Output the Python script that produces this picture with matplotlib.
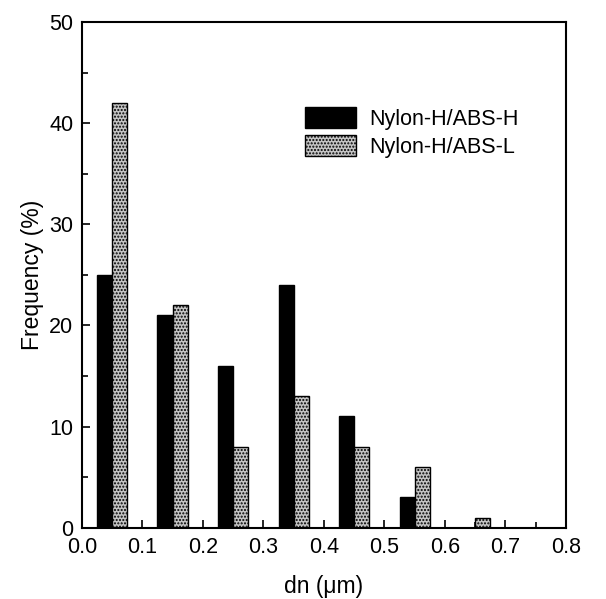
import numpy as np
import matplotlib.pyplot as plt

plt.rcParams['font.family'] = ['Liberation Sans', 'DejaVu Sans']

# bin centres (um) and frequencies (%)
dn_bins = [0.05, 0.15, 0.25, 0.35, 0.45, 0.55, 0.65]
freq_abs_h = [25, 21, 16, 24, 11, 3, 0]
freq_abs_l = [42, 22, 8, 13, 8, 6, 1]
labels = ['Nylon-H/ABS-H', 'Nylon-H/ABS-L']

fig = plt.figure(figsize=(6.06, 5.99), dpi=100)
ax = fig.add_axes([0.135, 0.119, 0.799, 0.844])

x = np.array(dn_bins)
w = 0.025
ax.bar(x - w / 2, freq_abs_h, width=w, color='black', edgecolor='black',
       linewidth=1, label=labels[0])
ax.bar(x + w / 2, freq_abs_l, width=w, color='#c4c4c4', edgecolor='black',
       linewidth=1, hatch='.....', label=labels[1])

ax.set_xlim(0, 0.8)
ax.set_ylim(0, 50)
ax.set_xticks(np.arange(0, 0.81, 0.1))
ax.set_xticks(np.arange(0.05, 0.8, 0.1), minor=True)
ax.set_yticks(np.arange(0, 51, 10))
ax.set_yticks(np.arange(5, 50, 10), minor=True)
ax.xaxis.set_major_formatter(plt.FormatStrFormatter('%.1f'))
ax.tick_params(which='both', direction='in', labelsize=15.5, top=False, right=False)
ax.tick_params(axis='x', pad=7)
ax.tick_params(axis='y', pad=6)
ax.tick_params(which='major', length=6, width=1.2)
ax.tick_params(which='minor', length=4, width=1.2)
for s in ax.spines.values():
    s.set_linewidth(1.5)

ax.set_xlabel('dn (μm)', fontsize=16.5, labelpad=12)
ax.set_ylabel('Frequency (%)', fontsize=16.5, labelpad=4)

ax.legend(loc='upper left', bbox_to_anchor=(0.42, 0.87), frameon=False,
          fontsize=15.5, handlelength=2.4, handleheight=1.1, labelspacing=0.25,
          handletextpad=0.6)

fig.savefig('out.png', dpi=100)
